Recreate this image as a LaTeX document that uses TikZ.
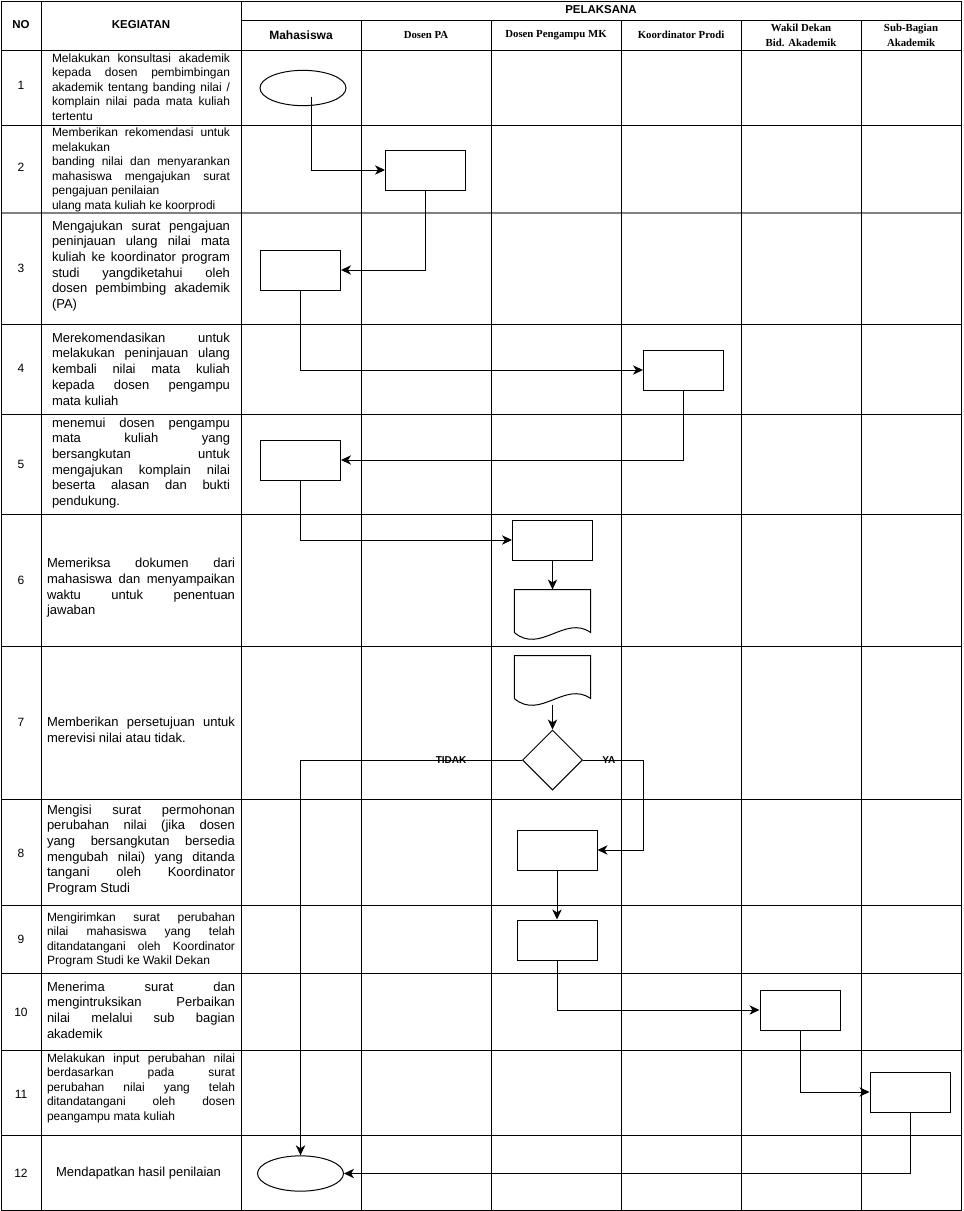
\documentclass[tikz,border=0pt]{standalone}
\usepackage{fontspec}
\setmainfont{Liberation Sans}
\newfontfamily\serifhd{Liberation Serif}
\usetikzlibrary{shapes.geometric,arrows.meta,calc}
\setlength{\parindent}{0pt}
\hyphenpenalty=10000
\exhyphenpenalty=10000

\begin{document}
\begin{tikzpicture}[x=0.75pt, y=-0.75pt, line width=0.75pt, >={Stealth[length=7.5pt,width=7pt,inset=2.2pt]},
    kotak/.style={draw, minimum width=60pt, minimum height=30pt, inner sep=0pt},
    elips/.style={draw, ellipse, minimum width=64.5pt, minimum height=26.5pt, inner sep=0pt},
    dok/.style={minimum width=56.5pt, minimum height=36pt, inner sep=0pt},
    belah/.style={draw, diamond, minimum width=45pt, minimum height=45pt, inner sep=0pt},
    ket/.style={text width=133.5pt, align=justify, inner sep=0pt, font=\fontsize{9.75}{11.8}\selectfont},
    kecil/.style={font=\fontsize{9}{10.9}\selectfont},
    lebar/.style={text width=141pt},
    nomor/.style={font=\fontsize{9}{10.8}\selectfont},
    judul/.style={font=\bfseries\fontsize{8.6}{10}\selectfont},
    pelaku/.style={font=\serifhd\bfseries\fontsize{8.1}{11}\selectfont, align=center},
    lbl/.style={font=\bfseries\fontsize{7.5}{9}\selectfont, inner sep=0pt}]
    \useasboundingbox (0,0) rectangle (964,1211);
    % 表の枠
    \draw[gray, line width=1.2pt] (1,213) -- (961,213);
    \draw (1,1) rectangle (961,1210);
    \draw (241,20) -- (961,20);
    \foreach \y in {50,125,324,414,514,646,799,905,973,1050,1135}
      \draw (1,\y) -- (961,\y);
    \foreach \x in {41,241}
      \draw (\x,1) -- (\x,1210);
    \foreach \x in {361,491,621,741,861}
      \draw (\x,20) -- (\x,1210);
    % 見出し
    \node[judul] (hno) at (21,25) {NO};
    \node[judul] (hkeg) at (141,25) {KEGIATAN};
    \node[judul] (hpel) at (601,10) {PELAKSANA};
    \node[judul, font=\bfseries\fontsize{9}{10}\selectfont] (hmhs) at (301,35) {Mahasiswa};
    \node[pelaku] (hpa) at (426,35) {Dosen PA};
    \node[pelaku] (hmk) at (556,35) {Dosen Pengampu MK};
    \node[pelaku] (hkp) at (681,35) {Koordinator Prodi};
    \node[pelaku] (hwd) at (801,35) {Wakil Dekan\\Bid. Akademik};
    \node[pelaku] (hsb) at (911,35) {Sub-Bagian\\Akademik};
    % 番号
    \foreach \n/\y in {1/85,2/167,3/268,4/368,5/464,6/580,7/722,8/853,9/939,10/1012,11/1094,12/1173}
      \node[nomor] (n\n) at (21,\y) {\n};
    % 活動
    \node[ket, kecil] (k1) at (141,87) {Melakukan konsultasi akademik\linebreak kepada dosen pembimbingan\linebreak akademik tentang banding nilai /\linebreak komplain nilai pada mata kuliah\linebreak tertentu};
    \node[ket, kecil] (k2) at (141,170) {Memberikan rekomendasi untuk\linebreak melakukan\\ banding nilai dan menyarankan\linebreak mahasiswa mengajukan surat\linebreak pengajuan penilaian\\ ulang mata kuliah ke koorprodi};
    \node[ket] (k3) at (141,266) {Mengajukan surat pengajuan\linebreak peninjauan ulang nilai mata\linebreak kuliah ke koordinator program\linebreak studi yangdiketahui oleh\linebreak dosen pembimbing akademik\linebreak (PA)};
    \node[ket] (k4) at (141,369) {Merekomendasikan untuk\linebreak melakukan peninjauan ulang\linebreak kembali nilai mata kuliah\linebreak kepada dosen pengampu\linebreak mata kuliah};
    \node[ket] (k5) at (141,463) {menemui dosen pengampu\linebreak mata kuliah yang\linebreak bersangkutan untuk\linebreak mengajukan komplain nilai\linebreak beserta alasan dan bukti\linebreak pendukung.};
    \node[ket, lebar] (k6) at (141,588) {Memeriksa dokumen dari\linebreak mahasiswa dan menyampaikan\linebreak waktu untuk penentuan\linebreak jawaban};
    \node[ket, lebar] (k7) at (141,730) {Memberikan persetujuan untuk\linebreak merevisi nilai atau tidak.};
    \node[ket, lebar] (k8) at (141,850) {Mengisi surat permohonan\linebreak perubahan nilai (jika dosen\linebreak yang bersangkutan bersedia\linebreak mengubah nilai) yang ditanda\linebreak tangani oleh Koordinator\linebreak Program Studi};
    \node[ket, lebar, kecil] (k9) at (141,940) {Mengirimkan surat perubahan\linebreak nilai mahasiswa yang telah\linebreak ditandatangani oleh Koordinator\linebreak Program Studi ke Wakil Dekan};
    \node[ket, lebar] (k10) at (141,1010) {Menerima surat dan\linebreak mengintruksikan Perbaikan\linebreak nilai melalui sub bagian\linebreak akademik};
    \node[ket, lebar, kecil] (k11) at (141,1088) {Melakukan input perubahan nilai\linebreak berdasarkan pada surat\linebreak perubahan nilai yang telah\linebreak ditandatangani oleh dosen\linebreak peangampu mata kuliah};
    \node[font=\fontsize{9.75}{11.8}\selectfont] (k12) at (138.5,1173) {Mendapatkan hasil penilaian};
    % 図形
    \node[elips] (e1) at (303,88) {};
    \node[kotak] (b2) at (425.5,170) {};
    \node[kotak] (b3) at (300.5,270) {};
    \node[kotak] (b4) at (683.5,370) {};
    \node[kotak] (b5) at (300.5,460) {};
    \node[kotak] (b6) at (552.5,540) {};
    \node[dok] (d6) at (552.5,614) {};
    \node[dok] (d7) at (552.5,680) {};
    \node[belah] (dm) at (552.5,760) {};
    \node[kotak] (b8) at (557,850) {};
    \node[kotak] (b9) at (557,940) {};
    \node[kotak] (b10) at (800,1010) {};
    \node[kotak] (b11) at (910,1092) {};
    \node[elips] (e12) at (300.5,1173.5) {};
    \foreach \d in {d6,d7}
      \draw (\d.north west) -- (\d.north east) -- ($(\d.south east)+(0,-6)$)
        .. controls ($(\d.south)+(12.5,-24)$) and ($(\d.south)+(-12.5,16)$) .. ($(\d.south west)+(0,-6)$) -- cycle;
    % 矢印
    \draw[->] ($(e1.center)+(8,9)$) |- (b2);
    \draw[->] (b2) |- (b3);
    \draw[->] (b3) |- (b4);
    \draw[->] (b4) |- (b5);
    \draw[->] (b5) |- (b6);
    \draw[->] (b6) -- (d6);
    \draw[->] (d7) -- (dm);
    \draw[->] (dm) -| node[lbl, pos=0.16] {TIDAK} (e12);
    \draw[->] (dm.east) -- node[lbl, pos=0.43] {YA} ++(60,0) |- (b8);
    \draw[->] (b8) -- (b9);
    \draw[->] (b9) |- (b10);
    \draw[->] (b10) |- (b11);
    \draw[->] (b11) |- (e12);
  \end{tikzpicture}
\end{document}
